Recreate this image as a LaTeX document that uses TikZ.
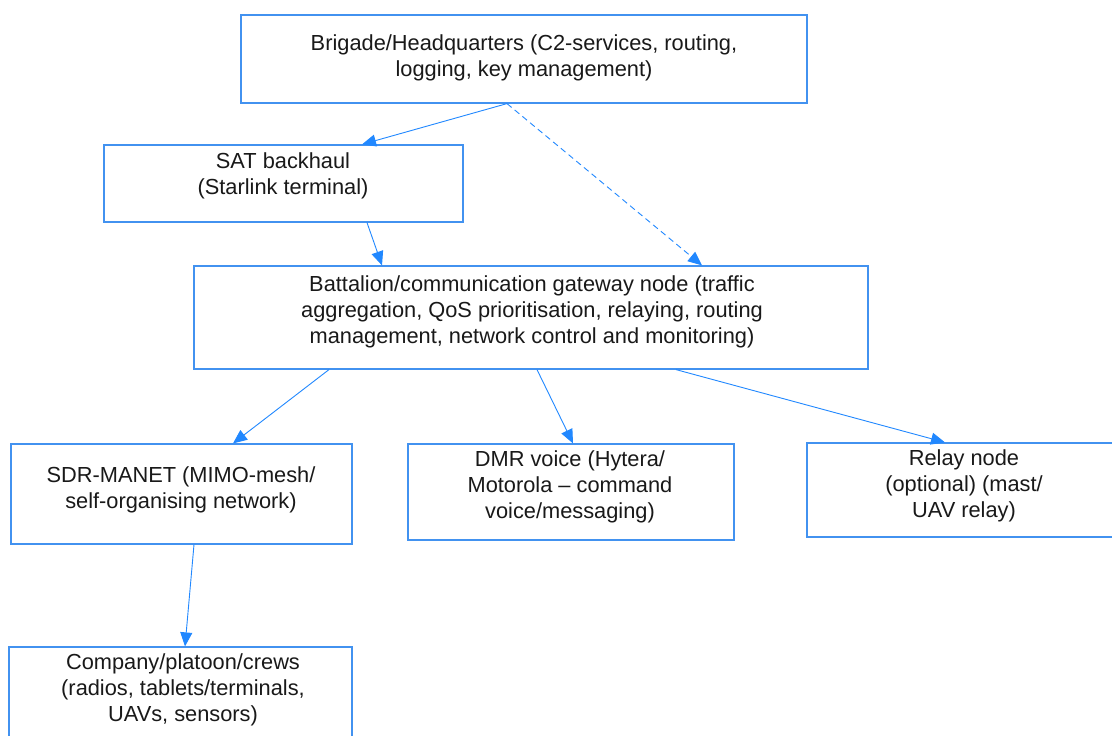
\documentclass[tikz,border=0pt]{standalone}
\usepackage{fontspec}
\setmainfont{Liberation Sans}
\usetikzlibrary{arrows.meta}
\definecolor{edgeblue}{RGB}{33,136,255}
\definecolor{boxblue}{RGB}{66,146,240}
\begin{document}
\begin{tikzpicture}[x=1pt,y=-1pt,
  box/.style={draw=boxblue,line width=1.2pt,rectangle,inner sep=0pt},
  txt/.style={align=center,font=\fontsize{21.8}{26}\selectfont,text=black!90,inner sep=0pt},
  conn/.style={draw=edgeblue,line width=0.9pt,-{Triangle[length=14pt,width=12pt]}},
  dashconn/.style={conn,dash pattern=on 6pt off 4pt}]
\useasboundingbox (0,0) rectangle (1112,736);
\clip (0,0) rectangle (1112,736);
\fill[white] (0,0) rectangle (1112,736);
% boxes
\node[box,minimum width=566pt,minimum height=88pt] (hq) at (524,59) {};
\node[box,minimum width=359pt,minimum height=77pt] (sat) at (283.5,183.5) {};
\node[box,minimum width=674pt,minimum height=103pt] (bat) at (531,317.5) {};
\node[box,minimum width=341pt,minimum height=100pt] (sdr) at (181.5,494) {};
\node[box,minimum width=326pt,minimum height=96pt] (dmr) at (571,492) {};
\node[box,minimum width=307pt,minimum height=94pt] (rel) at (960.5,490) {};
\node[box,minimum width=343pt,minimum height=103pt] (com) at (180.5,698.5) {};
% texts
\node[txt] (hqt) at (524,58) {Brigade/Headquarters (C2-services, routing,\\logging, key management)};
\node[txt] (satt) at (283,176) {SAT backhaul\\(Starlink terminal)};
\node[txt] (batt) at (532,312) {Battalion/communication gateway node (traffic\\aggregation, QoS prioritisation, relaying, routing\\management, network control and monitoring)};
\node[txt] (sdrt) at (181,490) {SDR-MANET (MIMO-mesh/\\self-organising network)};
\node[txt] (dmrt) at (570,487) {DMR voice (Hytera/\\Motorola – command\\voice/messaging)};
\node[txt] (relt) at (964,486) {Relay node\\(optional) (mast/\\UAV relay)};
\node[txt] (comt) at (183,690) {Company/platoon/crews\\(radios, tablets/terminals,\\UAVs, sensors)};
% connectors
\draw[conn] ([xshift=-17pt]hq.south) -- ([xshift=78.5pt]sat.north);
\draw[dashconn] ([xshift=-17pt]hq.south) -- ([xshift=171pt]bat.north);
\draw[conn] ([xshift=83.5pt]sat.south) -- ([xshift=-149pt]bat.north);
\draw[conn] ([xshift=-202pt]bat.south) -- ([xshift=51.5pt]sdr.north);
\draw[conn] ([xshift=6pt]bat.south) -- ([xshift=2pt]dmr.north);
\draw[conn] ([xshift=145pt]bat.south) -- ([xshift=-15.5pt]rel.north);
\draw[conn] ([xshift=12.5pt]sdr.south) -- ([xshift=4.5pt]com.north);
\end{tikzpicture}
\end{document}
